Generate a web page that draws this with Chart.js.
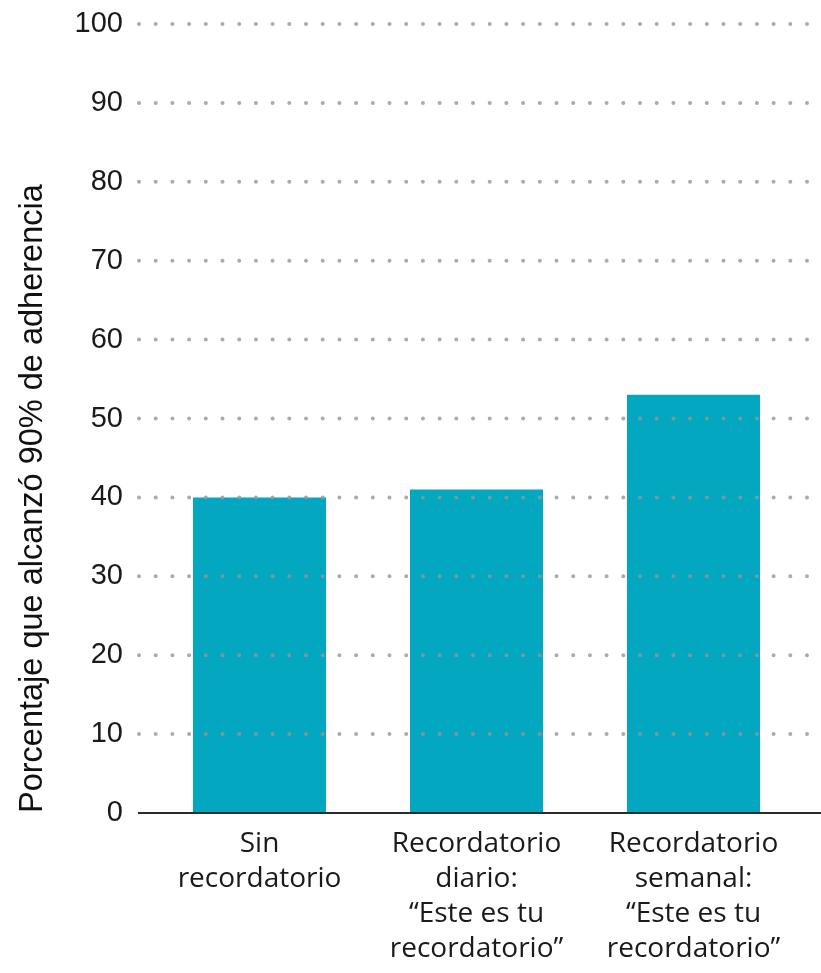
<!DOCTYPE html>
<html>
<head>
<meta charset="utf-8">
<script src="https://cdn.jsdelivr.net/npm/chart.js@4.4.0/dist/chart.umd.min.js"></script>
<style>
html,body{margin:0;padding:0;background:#fff;}
#wrap{width:821px;height:973px;position:relative;}
</style>
</head>
<body>
<div id="wrap"><canvas id="c" width="821" height="973"></canvas></div>
<script>
const categories = [
  ["Sin", "recordatorio"],
  ["Recordatorio", "diario:", "\u201cEste es tu", "recordatorio\u201d"],
  ["Recordatorio", "semanal:", "\u201cEste es tu", "recordatorio\u201d"]
];
const values = [40, 41, 53];
const yTicks = [0, 10, 20, 30, 40, 50, 60, 70, 80, 90, 100];
const yTitle = "Porcentaje que alcanzó 90% de adherencia";

const dottedGrid = {
  id: 'dottedGrid',
  afterDatasetsDraw(chart) {
    const ctx = chart.ctx;
    const y = chart.scales.y;
    const area = chart.chartArea;
    ctx.save();
    ctx.lineCap = 'round';
    ctx.lineWidth = 4;
    ctx.strokeStyle = 'rgba(150,150,150,0.8)';
    ctx.setLineDash([0, 16.7]);
    yTicks.forEach(v => {
      if (v === 0) return;
      const py = y.getPixelForValue(v);
      ctx.beginPath();
      ctx.moveTo(area.left - 12, py);
      ctx.lineTo(area.right + 8, py);
      ctx.stroke();
    });
    ctx.setLineDash([]);
    ctx.lineCap = 'butt';
    ctx.lineWidth = 2;
    ctx.strokeStyle = '#2b2b2b';
    const p0 = y.getPixelForValue(0);
    ctx.beginPath();
    ctx.moveTo(area.left - 13, p0);
    ctx.lineTo(chart.width, p0);
    ctx.stroke();
    ctx.restore();
  }
};

new Chart(document.getElementById('c'), {
  type: 'bar',
  data: {
    labels: categories,
    datasets: [{
      data: values,
      backgroundColor: '#03a8c0',
      borderWidth: 0,
      categoryPercentage: 1.0,
      barPercentage: 0.613
    }]
  },
  options: {
    responsive: false,
    animation: false,
    devicePixelRatio: 1,
    layout: { padding: { top: 24, right: 19, left: 0, bottom: 0 } },
    plugins: { legend: { display: false }, tooltip: { enabled: false } },
    scales: {
      x: {
        grid: { display: false, drawTicks: false },
        border: { display: false },
        ticks: {
          color: '#1a1a1a',
          padding: 14,
          maxRotation: 0,
          autoSkip: false,
          font: { family: '"Open Sans", Lato, sans-serif', size: 28, lineHeight: 1.25 }
        },
        afterFit(scale) { scale.height = 160; scale.paddingLeft = 0; scale.paddingRight = 0; }
      },
      y: {
        min: 0,
        max: 100,
        afterBuildTicks(scale) { scale.ticks = yTicks.map(v => ({ value: v })); },
        grid: { display: false, drawTicks: false },
        border: { display: false },
        ticks: {
          color: '#1a1a1a',
          padding: 28,
          font: { family: '"Liberation Sans", Arial, sans-serif', size: 29 }
        },
        title: {
          display: true,
          text: yTitle,
          align: 'start',
          color: '#111',
          padding: { top: 14, bottom: 0 },
          font: { family: '"Liberation Sans", Arial, sans-serif', size: 32.5 }
        },
        afterFit(scale) { scale.width = 151; scale.paddingTop = 0; scale.paddingBottom = 0; }
      }
    }
  },
  plugins: [dottedGrid]
});
</script>
</body>
</html>
